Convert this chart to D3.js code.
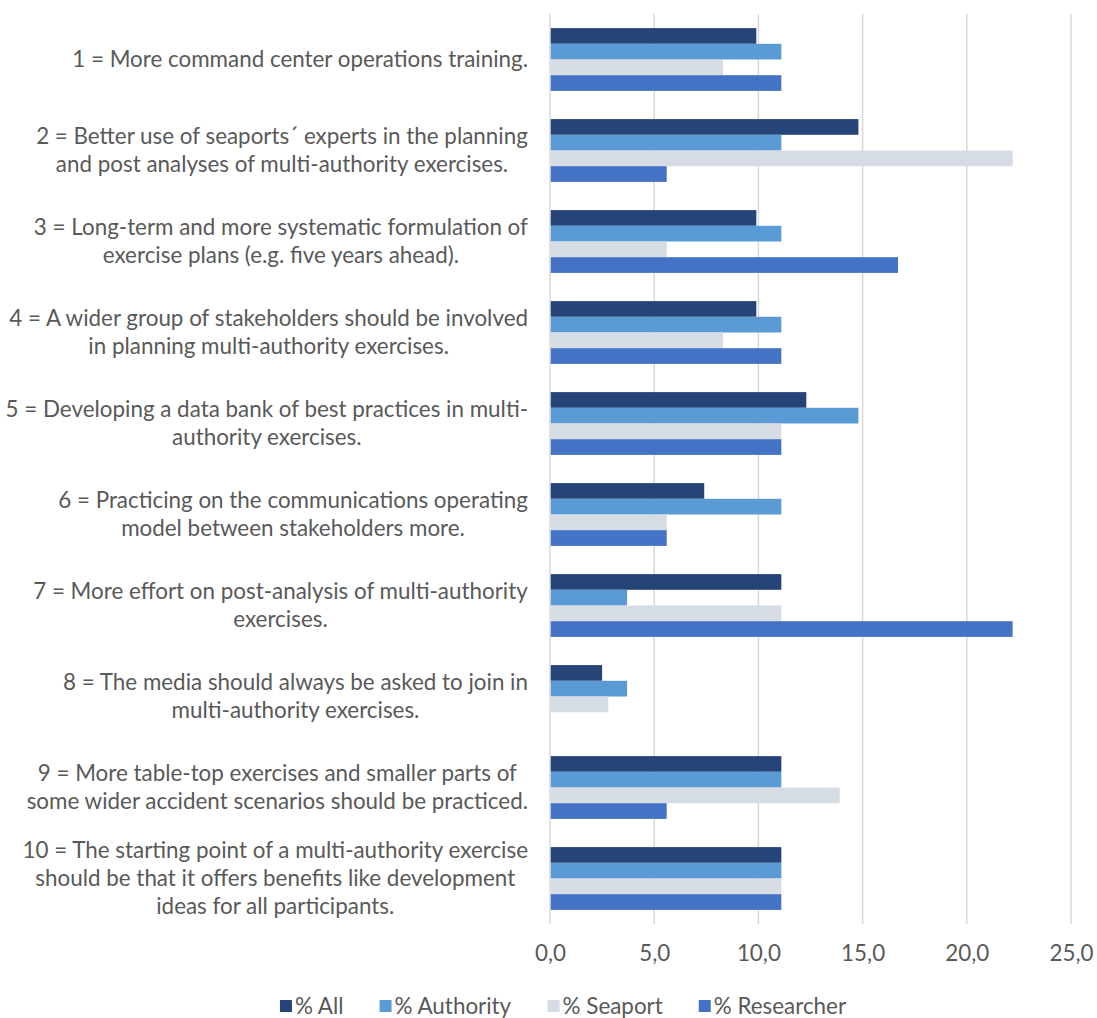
<!DOCTYPE html>
<html>
<head>
<meta charset="utf-8">
<script src="https://cdn.jsdelivr.net/npm/d3@7"></script>
<style>
  html, body { margin: 0; padding: 0; background: #fff; }
  svg { display: block; }
  text { font-family: Lato, "Open Sans", sans-serif; fill: #595959; }
</style>
</head>
<body>
<svg id="chart" width="1097" height="1018"></svg>
<script>
// Suggestions for multi-authority exercises, share of respondents (%)
const categories = [
  "1 = More command center operations training.",
  "2 = Better use of seaports´ experts in the planning\nand post analyses of multi-authority exercises.",
  "3 = Long-term and more systematic formulation of\nexercise plans (e.g. five years ahead).",
  "4 = A wider group of stakeholders should be involved\nin planning multi-authority exercises.",
  "5 = Developing a data bank of best practices in multi-\nauthority exercises.",
  "6 = Practicing on the communications operating\nmodel between stakeholders more.",
  "7 = More effort on post-analysis of multi-authority\nexercises.",
  "8 = The media should always be asked to join in\nmulti-authority exercises.",
  "9 = More table-top exercises and smaller parts of\nsome wider accident scenarios should be practiced.",
  "10 = The starting point of a multi-authority exercise\nshould be that it offers benefits like development\nideas for all participants."
];

const seriesNames = ["% All", "% Authority", "% Seaport", "% Researcher"];

const allValues        = [9.9, 14.8, 9.9, 9.9, 12.3, 7.4, 11.1, 2.5, 11.1, 11.1];
const authorityValues  = [11.1, 11.1, 11.1, 11.1, 14.8, 11.1, 3.7, 3.7, 11.1, 11.1];
const seaportValues    = [8.3, 22.2, 5.6, 8.3, 11.1, 5.6, 11.1, 2.8, 13.9, 11.1];
const researcherValues = [11.1, 5.6, 16.7, 11.1, 11.1, 5.6, 22.2, 0.0, 5.6, 11.1];

const tickValues = [0, 5, 10, 15, 20, 25];
const tickLabels = ["0,0", "5,0", "10,0", "15,0", "20,0", "25,0"];

const seriesValues = [allValues, authorityValues, seaportValues, researcherValues];
const colors = ["#264478", "#5B9BD5", "#D6DCE4", "#4472C4"];

const svg = d3.select("#chart");
const plot = { left: 550, right: 1071, top: 14, bottom: 924 };
const fontSize = 22.4;

const x = d3.scaleLinear().domain([0, 25]).range([plot.left, plot.right]);
const y0 = d3.scaleBand()
  .domain(categories.map((d, i) => i))
  .range([plot.top, plot.bottom])
  .paddingInner(0.31)
  .paddingOuter(0.155);
const y1 = d3.scaleBand()
  .domain(seriesNames.map((d, i) => i))
  .range([0, y0.bandwidth()]);

// vertical gridlines
svg.append("g")
  .selectAll("line")
  .data(tickValues)
  .join("line")
  .attr("x1", d => x(d)).attr("x2", d => x(d))
  .attr("y1", plot.top).attr("y2", plot.bottom)
  .attr("stroke", "#D9D9D9")
  .attr("stroke-width", 1.5);

// bars
const groups = svg.append("g")
  .selectAll("g")
  .data(categories.map((c, i) => i))
  .join("g")
  .attr("transform", i => `translate(0,${y0(i)})`);

groups.selectAll("rect")
  .data(i => seriesValues.map((vals, s) => ({ s, v: vals[i] })))
  .join("rect")
  .attr("x", x(0) + 0.75)
  .attr("y", d => y1(d.s))
  .attr("width", d => Math.max(0, x(d.v) - x(0) - 0.75))
  .attr("height", y1.bandwidth())
  .attr("fill", d => colors[d.s]);

// x-axis tick labels
const xAxis = d3.axisBottom(x)
  .tickValues(tickValues)
  .tickFormat((d, i) => tickLabels[i])
  .tickSize(0)
  .tickPadding(21);
const axisG = svg.append("g")
  .attr("transform", `translate(0,${plot.bottom})`)
  .call(xAxis);
axisG.select(".domain").remove();
axisG.selectAll("text")
  .attr("font-family", null)
  .style("font-size", fontSize + "px")
  .style("fill", "#595959");

// category labels: centered lines, block right-aligned to the axis
const labelRight = 528;
const lineHeight = 28;
const labelG = svg.append("g");
categories.forEach((c, i) => {
  const lines = c.split("\n");
  const cy = y0(i) + y0.bandwidth() / 2;
  const t = labelG.append("text")
    .style("font-size", fontSize + "px")
    .attr("text-anchor", "middle");
  lines.forEach((ln, k) => {
    t.append("tspan")
      .attr("x", 0)
      .attr("y", cy + (k - (lines.length - 1) / 2) * lineHeight)
      .attr("dy", "0.35em")
      .text(ln);
  });
  const w = t.node().getBBox().width;
  t.attr("transform", `translate(${labelRight - w / 2},0)`);
});

// legend
const legend = svg.append("g");
const itemGap = 36;
let lx = 0;
const items = legend.selectAll("g")
  .data(seriesNames)
  .join("g");
items.append("rect")
  .attr("width", 12).attr("height", 12)
  .attr("y", -6)
  .attr("fill", (d, i) => colors[i]);
items.append("text")
  .attr("x", 15)
  .attr("dy", "0.35em")
  .style("font-size", fontSize + "px")
  .text(d => d);
items.each(function () {
  const g = d3.select(this);
  g.attr("transform", `translate(${lx},0)`);
  lx += this.getBBox().width + itemGap;
});
const legendWidth = lx - itemGap;
legend.attr("transform", `translate(${(285 + 841) / 2 - legendWidth / 2},1006)`);
</script>
</body>
</html>
